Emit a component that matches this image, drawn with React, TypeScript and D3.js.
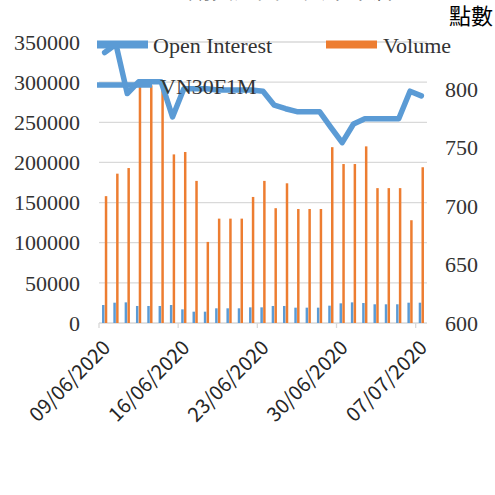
import React from "react";
import * as d3 from "d3";

const dates = [
  "09/06/2020","10/06/2020","11/06/2020","12/06/2020","13/06/2020","14/06/2020","15/06/2020",
  "16/06/2020","17/06/2020","18/06/2020","19/06/2020","20/06/2020","21/06/2020","22/06/2020",
  "23/06/2020","24/06/2020","25/06/2020","26/06/2020","27/06/2020","28/06/2020","29/06/2020",
  "30/06/2020","01/07/2020","02/07/2020","03/07/2020","04/07/2020","05/07/2020","06/07/2020",
  "07/07/2020",
];
const openInterest = [
  22400, 25300, 25700, 21200, 21200, 21200, 22400,
  17000, 14100, 14100, 18300, 18300, 18300, 19500,
  19500, 21200, 21200, 19100, 19100, 19100, 21600,
  24500, 25700, 24900, 23300, 23300, 23300, 25300,
  25300,
];
const volume = [
  158000, 186000, 193000, 296000, 296000, 296000, 210000,
  213000, 177000, 101000, 130000, 130000, 130000, 157000,
  177000, 143000, 174000, 142000, 142000, 142000, 219000,
  198000, 198000, 220000, 168000, 168000, 168000, 128000,
  194000,
];
const vn30f1m = [
  831, 838, 796, 806, 806, 806, 776,
  800, 800, 800, 799, 799, 799, 799,
  798, 786, 783, 780.5, 780.5, 780.5, 767,
  754, 770, 774.5, 774.5, 774.5, 774.5, 798,
  794,
];
const leftTicks = [0, 50000, 100000, 150000, 200000, 250000, 300000, 350000];
const rightTicks = [600, 650, 700, 750, 800];
const labelEvery = 7;
const seriesNames = ["Open Interest", "Volume", "VN30F1M"];
const rightTitle = "點數";
const chartTitle = "期貨成交量與未平倉量";

const BLUE = "#5B9BD5";
const ORANGE = "#ED7D31";
const GRID = "#D9D9D9";

export default function App() {
  const W = 495, H = 495;
  const left = 99, right = 427, top = 42, bottom = 323;

  const x = d3.scaleBand<string>().domain(dates).range([left, right]).paddingInner(0).paddingOuter(0);
  const bw = x.bandwidth();
  const xSub = d3.scaleBand<string>().domain(["oi", "vol"]).range([bw / 2 - 2.9, bw / 2 + 2.9]).padding(0.1);
  const yL = d3.scaleLinear().domain([0, 350000]).range([bottom, top]);
  const yR = d3.scaleLinear().domain([600, 840]).range([bottom, top]);

  const line = d3.line<number>()
    .x((_, i) => (x(dates[i]) as number) + bw / 2)
    .y((d) => yR(d));

  const serif = "'Liberation Serif', 'Times New Roman', serif";
  const cjk = "'Noto Sans CJK TC', 'Noto Sans', sans-serif";

  return (
    <div style={{ position: "fixed", left: 0, top: 0 }}>
      <svg width={W} height={H} style={{ display: "block", background: "#fff" }}>
        <rect x={0} y={0} width={W} height={H} fill="#fff" />
        {/* title, cut off at the top edge as in the reference */}
        <text x={303} y={-2} textAnchor="middle" fontFamily={cjk} fontSize={23} fill="#404040">{chartTitle}</text>
        <text x={493} y={24} textAnchor="end" fontFamily={cjk} fontSize={22} fill="#000">{rightTitle}</text>

        {/* gridlines */}
        {leftTicks.map((t) => (
          <line key={t} x1={left} x2={right} y1={yL(t)} y2={yL(t)} stroke={GRID} strokeWidth={1.3} />
        ))}
        {/* x axis ticks */}
        {dates.map((d, i) => (i % labelEvery === 0 ? (
          <line key={d} x1={x(d) as number} x2={x(d) as number} y1={bottom} y2={bottom + 5} stroke={GRID} strokeWidth={1.3} />
        ) : null))}

        {/* left axis labels */}
        {leftTicks.map((t) => (
          <text key={t} x={80} y={yL(t)} dy="0.35em" textAnchor="end" fontFamily={serif} fontSize={22} fill="#333">{t}</text>
        ))}
        {/* right axis labels */}
        {rightTicks.map((t) => (
          <text key={t} x={445} y={yR(t)} dy="0.35em" textAnchor="start" fontFamily={serif} fontSize={22} fill="#333">{t}</text>
        ))}

        {/* bars */}
        {dates.map((d, i) => {
          const x0 = x(d) as number;
          return (
            <g key={d}>
              <rect x={x0 + (xSub("oi") as number)} y={yL(openInterest[i])} width={xSub.bandwidth()} height={bottom - yL(openInterest[i])} fill={BLUE} />
              <rect x={x0 + (xSub("vol") as number)} y={yL(volume[i])} width={xSub.bandwidth()} height={bottom - yL(volume[i])} fill={ORANGE} />
            </g>
          );
        })}

        {/* line */}
        <path d={line(vn30f1m) as string} fill="none" stroke={BLUE} strokeWidth={5.5} strokeLinejoin="round" strokeLinecap="round" />

        {/* x labels */}
        {dates.map((d, i) => (i % labelEvery === 0 ? (
          <text key={d} transform={`translate(${(x(d) as number) + bw / 2 + 1},${343}) rotate(-45)`} textAnchor="end" dominantBaseline="central" fontFamily={cjk} fontSize={20} fill="#262626">{d}</text>
        ) : null))}

        {/* legend */}
        <rect x={97} y={40.5} width={51} height={8} fill={BLUE} />
        <text x={153} y={53} fontFamily={serif} fontSize={22} fill="#333">{seriesNames[0]}</text>
        <rect x={326} y={40.5} width={51} height={8} fill={ORANGE} />
        <text x={383} y={53} fontFamily={serif} fontSize={22} fill="#333">{seriesNames[1]}</text>
        <line x1={97} x2={152} y1={85} y2={85} stroke={BLUE} strokeWidth={5.5} />
        <text x={160} y={94} fontFamily={serif} fontSize={22} fill="#333">{seriesNames[2]}</text>
      </svg>
    </div>
  );
}
